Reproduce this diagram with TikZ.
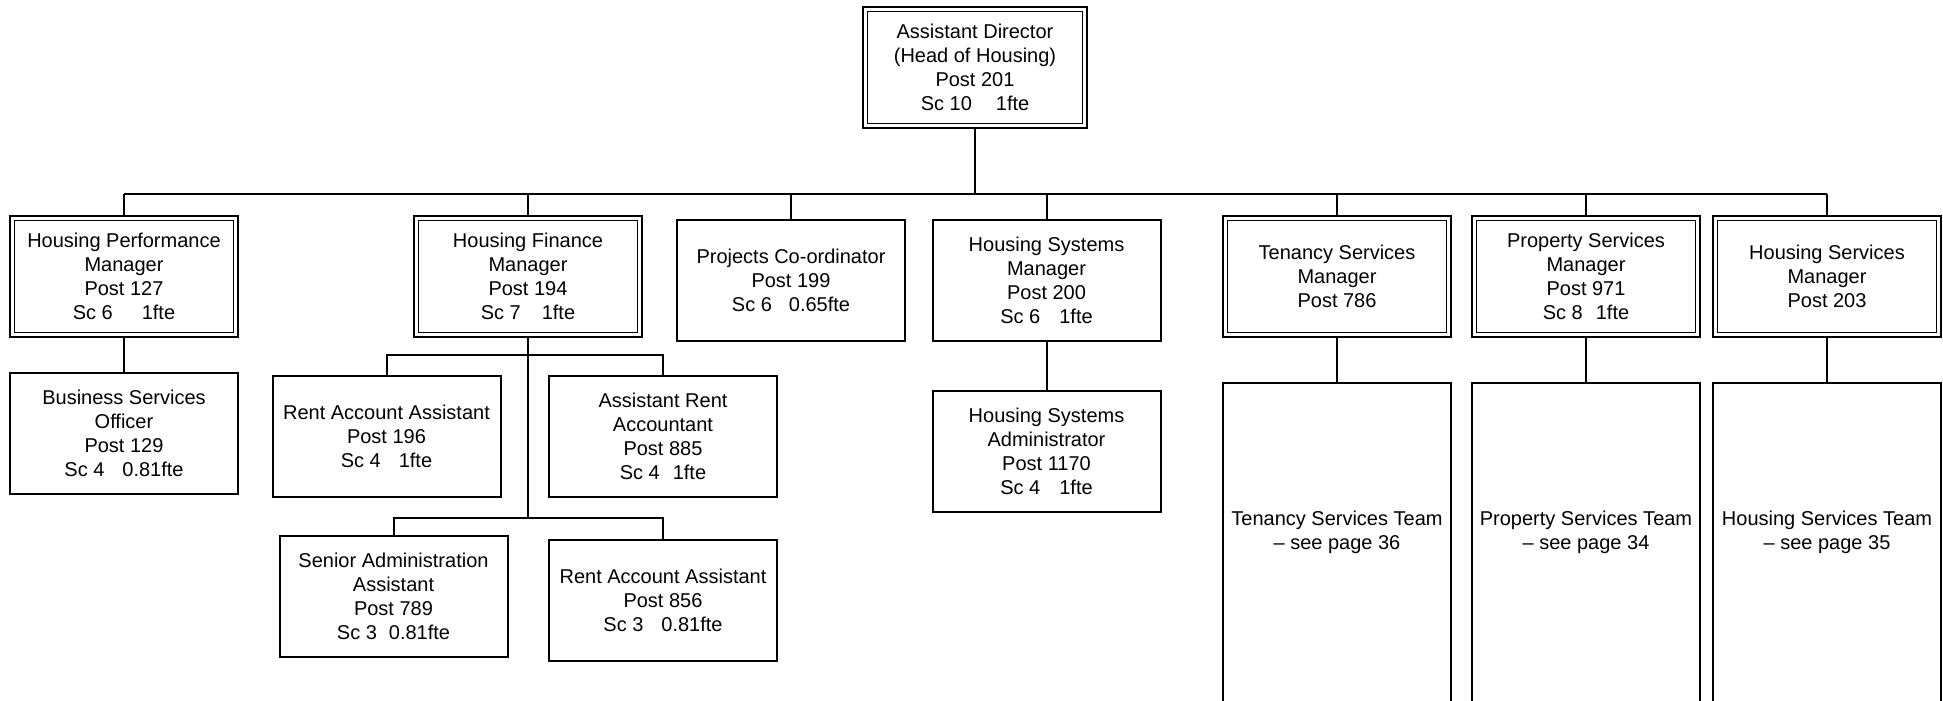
\documentclass[tikz,border=0pt]{standalone}
\usepackage{fontspec}
\setmainfont{Liberation Sans}
\usetikzlibrary{backgrounds}

\begin{document}
\begin{tikzpicture}[x=0.5pt, y=-0.5pt,
    every node/.style={font=\fontsize{10}{12}\selectfont, align=center, inner sep=0pt, outer sep=0pt},
    post/.style={draw, line width=1pt, minimum width=114pt, minimum height=60.5pt},
    head/.style={draw, line width=0.75pt, double, double distance=1.5pt, minimum width=111.75pt, minimum height=58.25pt},
    team/.style={draw, line width=1pt, minimum width=114pt, anchor=north, text height=77.35pt, text depth=95pt},
    link/.style={line width=1pt},
    trunk/.style={line width=1.4pt}]
            \useasboundingbox (0,0) rectangle (1943,701);
            \clip (0,0) rectangle (1943,701);
            % top
            \node[head, minimum width=109.75pt] (dir) at (975,67.5) {Assistant Director\\(Head of Housing)\\Post 201\\Sc 10\hspace{12pt}1fte};
            % managers
            \node[head] (hpm) at (124,276.5) {Housing Performance\\Manager\\Post 127\\Sc 6\hspace{14.5pt}1fte};
            \node[head] (hfm) at (528,276.5) {Housing Finance\\Manager\\Post 194\\Sc 7\hspace{10.5pt}1fte};
            \node[post] (proj) at (791,280.5) {Projects Co-ordinator\\Post 199\\Sc 6\hspace{8.5pt}0.65fte};
            \node[post] (sys) at (1046.5,280.5) {Housing Systems\\Manager\\Post 200\\Sc 6\hspace{9.5pt}1fte};
            \node[head] (tsm) at (1337,276.5) {Tenancy Services\\Manager\\Post 786};
            \node[head] (psm) at (1586,276.5) {Property Services\\Manager\\Post 971\\Sc 8\hspace{6.5pt}1fte};
            \node[head] (hsm) at (1827,276.5) {Housing Services\\Manager\\Post 203};
            % staff
            \node[post] (bso) at (124,433) {Business Services\\Officer\\Post 129\\Sc 4\hspace{9pt}0.81fte};
            \node[post] (raa1) at (386.5,436.5) {Rent Account Assistant\\Post 196\\Sc 4\hspace{9pt}1fte};
            \node[post] (ara) at (663,436.5) {Assistant Rent\\Accountant\\Post 885\\Sc 4\hspace{6.5pt}1fte};
            \node[post] (sadm) at (393.5,596.5) {Senior Administration\\Assistant\\Post 789\\Sc 3\hspace{6pt}0.81fte};
            \node[post] (raa2) at (663,600) {Rent Account Assistant\\Post 856\\Sc 3\hspace{9pt}0.81fte};
            \node[post] (hsa) at (1046.5,451) {Housing Systems\\Administrator\\Post 1170\\Sc 4\hspace{9.5pt}1fte};
            % teams
            \node[team] (tst) at (1337,383) {\begin{tabular}{@{}c@{}}Tenancy Services Team\\-- see page 36\end{tabular}};
            \node[team] (pst) at (1586,383) {\begin{tabular}{@{}c@{}}Property Services Team\\-- see page 34\end{tabular}};
            \node[team] (hst) at (1827,383) {\begin{tabular}{@{}c@{}}Housing Services Team\\-- see page 35\end{tabular}};
            % lines
            \begin{scope}[on background layer]
                \coordinate (bus) at (975,194);
                \coordinate (fbus1) at (528,355);
                \coordinate (fbus2) at (528,518);
                \draw[trunk] (dir.south) -- (bus);
                \draw[trunk] (hpm.north |- bus) -- (hsm.north |- bus);
                \foreach \n in {hpm,hfm,proj,sys,tsm,psm,hsm}
                    \draw[link] (\n.north |- bus) -- (\n.north);
                \draw[link] (hpm.south) -- (bso.north);
                \draw[link] (sys.south) -- (hsa.north);
                \draw[link] (hfm.south) -- (fbus2);
                \draw[link] (raa1.north) |- (fbus1) -| (ara.north);
                \draw[link] (sadm.north) |- (fbus2) -| (raa2.north);
                \draw[link] (tsm.south) -- (tst.north);
                \draw[link] (psm.south) -- (pst.north);
                \draw[link] (hsm.south) -- (hst.north);
            \end{scope}
        \end{tikzpicture}
\end{document}
